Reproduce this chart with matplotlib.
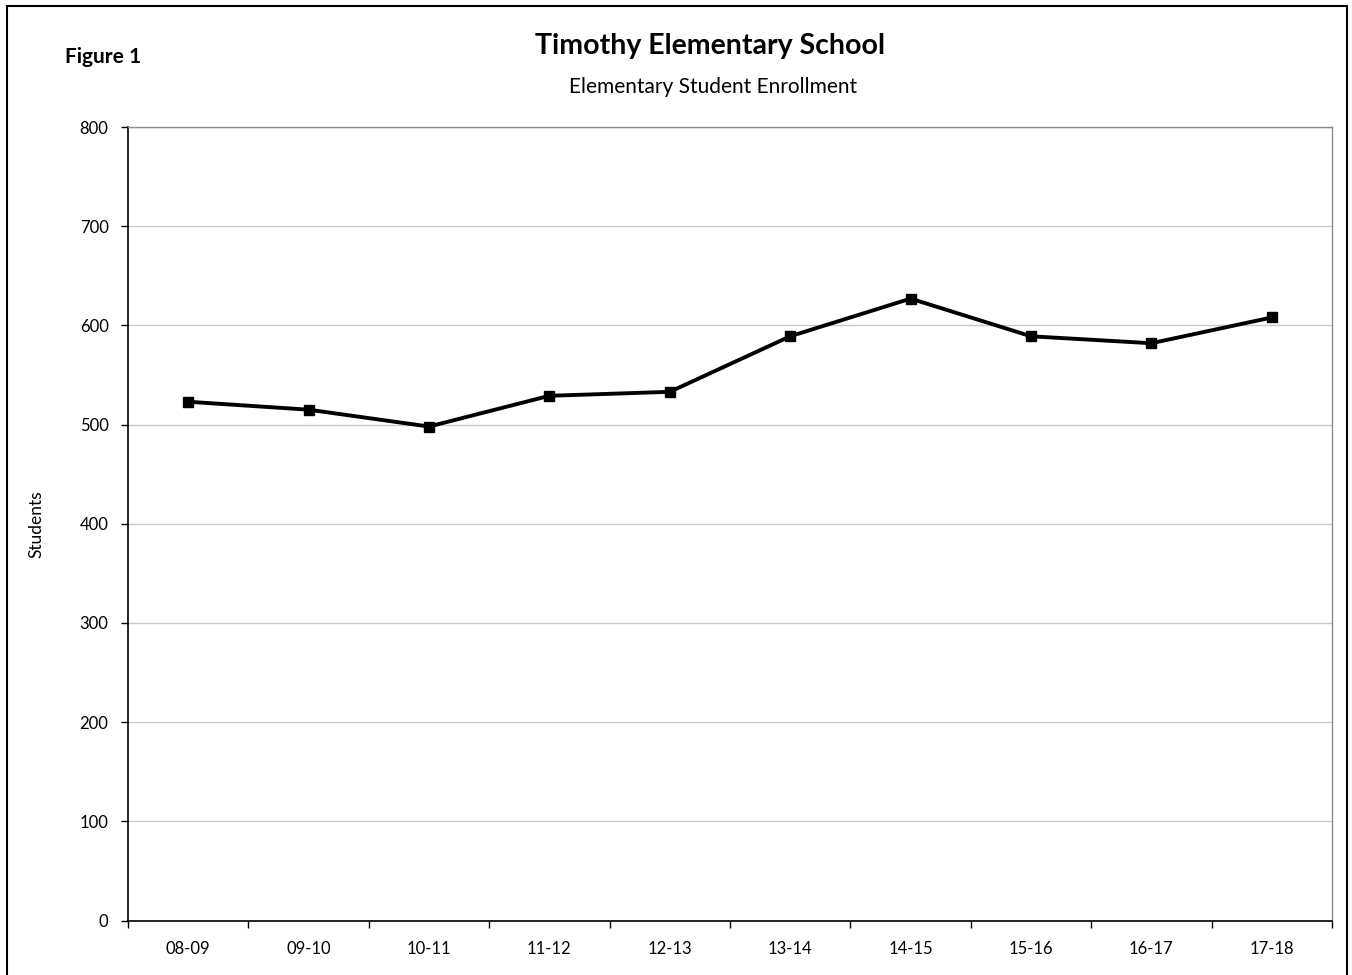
import matplotlib
matplotlib.use("Agg")
import matplotlib.pyplot as plt
from matplotlib.patches import Rectangle

categories = ["08-09", "09-10", "10-11", "11-12", "12-13", "13-14", "14-15", "15-16", "16-17", "17-18"]
students = [523, 515, 498, 529, 533, 589, 627, 589, 582, 608]
y_ticks = [0, 100, 200, 300, 400, 500, 600, 700, 800]

plt.rcParams['font.family'] = ['Lato', 'DejaVu Sans']

W, H = 1352, 975
fig = plt.figure(figsize=(W / 100, H / 100), dpi=100)
ax = fig.add_axes([128 / W, 1 - 920.5 / H, (1332 - 128) / W, (920.5 - 127) / H])

# outer border
fig.patches.append(Rectangle((7 / W, -0.01), (1347 - 7) / W, 1 - 6 / H + 0.01,
                             transform=fig.transFigure, fill=False,
                             edgecolor='black', linewidth=1.5, clip_on=False))

x = list(range(len(categories)))
ax.plot(x, students, color='black', linewidth=2.8, marker='s', markersize=7,
        markerfacecolor='black', markeredgecolor='black', zorder=3)

ax.set_xlim(-0.5, len(categories) - 0.5)
ax.set_ylim(0, 800)
ax.set_yticks(y_ticks)
ax.set_yticklabels([str(v) for v in y_ticks], fontsize=12)
ax.set_xticks(x)
ax.set_xticklabels(categories, fontsize=12)
ax.set_xticks([i - 0.5 for i in range(len(categories) + 1)], minor=True)
ax.tick_params(axis='x', which='major', length=0, pad=15)
ax.tick_params(axis='x', which='minor', length=5, width=1, direction='out', color='black')
ax.tick_params(axis='y', length=5, width=1, direction='out', color='black', pad=9)

ax.grid(axis='y', color='#c8c8c8', linewidth=1)
ax.set_axisbelow(True)
for s in ['top', 'right']:
    ax.spines[s].set_color('#8c8c8c')
    ax.spines[s].set_linewidth(1)
for s in ['left', 'bottom']:
    ax.spines[s].set_color('black')
    ax.spines[s].set_linewidth(1.2)

ax.set_ylabel("Students", fontsize=12.5, va='center')
ax.yaxis.set_label_coords((36 - 128) / (1332 - 128), 0.5)

fig.text(710 / W, 1 - 46 / H, "Timothy Elementary School", ha='center', va='center',
         fontsize=20.5, fontweight='bold')
fig.text(713 / W, 1 - 87 / H, "Elementary Student Enrollment", ha='center', va='center',
         fontsize=15)
fig.text(65 / W, 1 - 57 / H, "Figure 1", ha='left', va='center', fontsize=15,
         fontweight='bold')

fig.savefig("out.png", dpi=100)
